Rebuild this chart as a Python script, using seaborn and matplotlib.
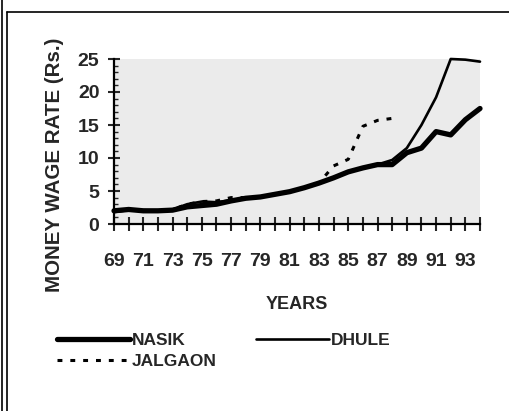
import numpy as np
import pandas as pd
import matplotlib
matplotlib.use("Agg")
import matplotlib.pyplot as plt
import seaborn as sns
from matplotlib.lines import Line2D
from matplotlib.ticker import MultipleLocator

years = list(range(69, 95))
nasik = [2.0, 2.2, 2.0, 2.0, 2.1, 2.6, 2.8, 3.0, 3.5, 3.9, 4.1, 4.5, 4.9, 5.5, 6.2, 7.0, 7.9, 8.5, 9.0,
         9.0, 10.8, 11.5, 14.0, 13.5, 15.8, 17.5]
dhule = [1.8, 2.1, 2.1, 2.0, 2.2, 3.0, 3.4, 3.3, 3.6, 3.9, 4.1, 4.5, 4.9, 5.5, 6.2, 7.0, 7.9, 8.5, 9.0,
         9.7, 11.5, 15.0, 19.2, 25.0, 24.9, 24.6]
jalgaon = [2.0, 2.2, 2.0, 2.0, 2.2, 3.0, 3.4, 3.5, 4.0, 4.0, 4.1, 4.5, 4.9, 5.5, 6.2, 8.8, 9.8, 14.8,
           15.7, 16.0] + [np.nan] * 6
series_names = ["NASIK", "DHULE", "JALGAON"]

sns.set_style("ticks")
plt.rcParams["font.family"] = ["Liberation Sans", "DejaVu Sans"]
plt.rcParams["font.weight"] = "bold"

df = pd.DataFrame({"year": years, "NASIK": nasik, "DHULE": dhule, "JALGAON": jalgaon})

fig = plt.figure(figsize=(5.10, 4.11), dpi=100)
ax = fig.add_axes([114 / 510, 1 - 224 / 411, (480 - 114) / 510, (224 - 59) / 411])
ax.set_facecolor("#ebebeb")

styles = {
    "NASIK": dict(color="black", linewidth=3.8, linestyle="-"),
    "DHULE": dict(color="black", linewidth=1.9, linestyle="-"),
    "JALGAON": dict(color="black", linewidth=2.2, linestyle=(0, (1.6, 2.6))),
}
for name in series_names:
    sns.lineplot(data=df, x="year", y=name, ax=ax, legend=False, **styles[name])
for ln in ax.get_lines():
    ln.set_clip_on(False)

ax.set_xlim(69, 94)
ax.set_ylim(0, 25)
ax.set_xticks(years)
ax.set_xticklabels([str(y) if (y - 69) % 2 == 0 else "" for y in years])
ax.set_yticks([0, 5, 10, 15, 20, 25])
ax.yaxis.set_minor_locator(MultipleLocator(1))
ax.tick_params(axis="x", which="major", direction="inout", length=10, width=1.5,
               labelsize=14, pad=16)
ax.tick_params(axis="y", which="major", direction="inout", length=9, width=1.5,
               labelsize=14, pad=6)
ax.tick_params(axis="y", which="minor", direction="in", length=3, width=1)
for lab in ax.get_xticklabels() + ax.get_yticklabels():
    lab.set_fontweight("bold")
for s in ["top", "right"]:
    ax.spines[s].set_visible(False)
for s in ["left", "bottom"]:
    ax.spines[s].set_linewidth(1.6)
    ax.spines[s].set_color("black")

ax.set_xlabel("")
ax.set_ylabel("")
fig.text(55 / 510, 1 - 165 / 411, "MONEY WAGE RATE (Rs.)", rotation=90, ha="center",
         va="center", fontsize=14.8, fontweight="bold")
fig.text(297 / 510, 1 - 304 / 411, "YEARS", ha="center", va="center", fontsize=13,
         fontweight="bold")

handles = [Line2D([], [], **styles[n]) for n in ["NASIK", "JALGAON", "DHULE"]]
labels = ["NASIK", "JALGAON", "DHULE"]
fig.legend(handles, labels, loc="upper left", bbox_to_anchor=(57 / 510, 1 - 333 / 411),
           ncol=2, frameon=False, borderpad=0, borderaxespad=0, handlelength=4.2,
           handletextpad=0.1, columnspacing=2.3, labelspacing=0.35,
           prop={"size": 12.5, "weight": "bold"})

# page frame
fig.add_artist(Line2D([2 / 510, 2 / 510], [0, 1], transform=fig.transFigure, color="black", lw=1.2))
fig.add_artist(Line2D([7 / 510, 7 / 510], [0, 1 - 12 / 411], transform=fig.transFigure, color="black", lw=1.2))
fig.add_artist(Line2D([7 / 510, 1], [1 - 12 / 411, 1 - 12 / 411], transform=fig.transFigure, color="black", lw=1.2))

fig.savefig("out.png", dpi=100)
